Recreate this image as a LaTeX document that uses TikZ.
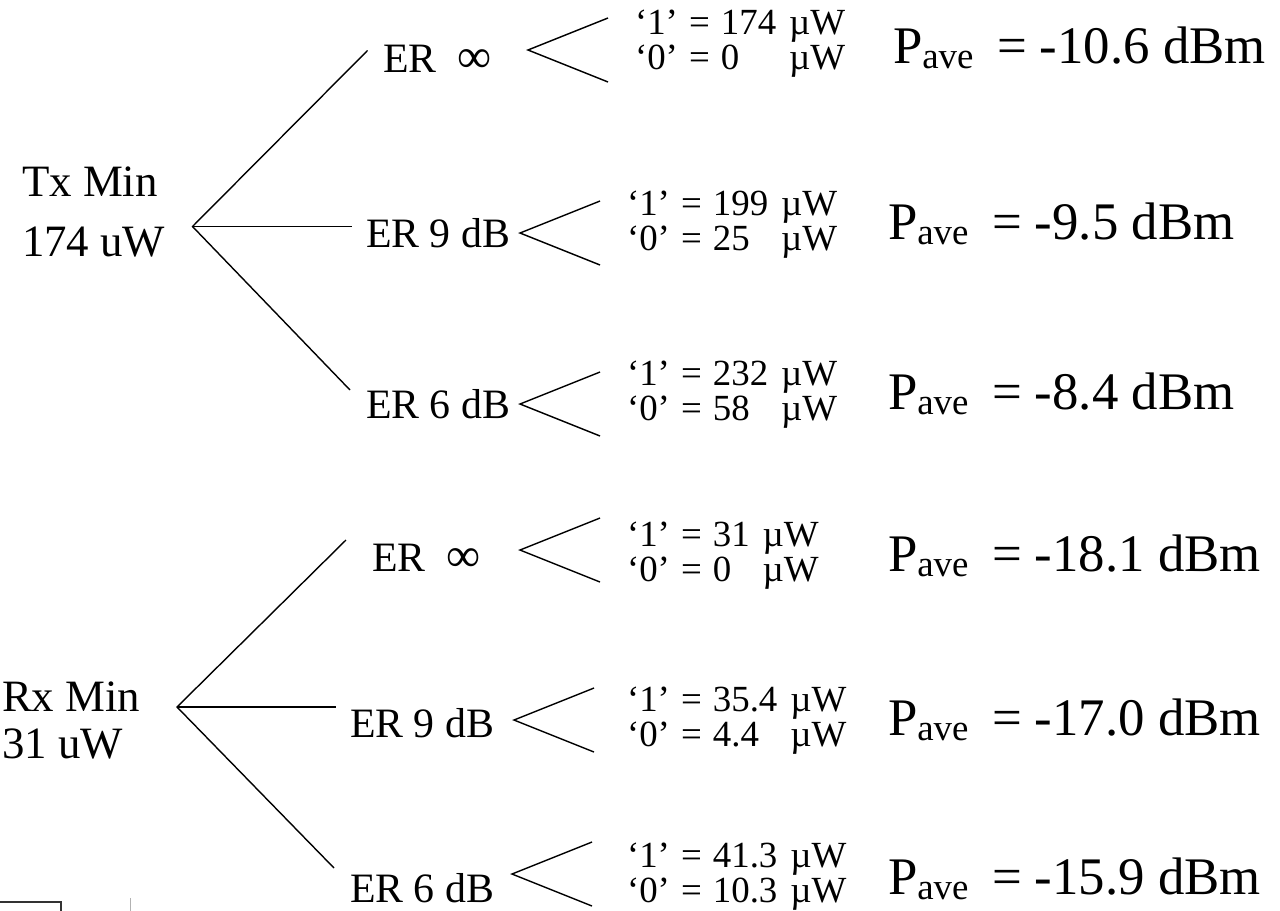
\documentclass[tikz,border=0pt]{standalone}
\usepackage{fontspec}
\setmainfont{Liberation Serif}
\newcommand{\vals}[2]{\begin{tabular}[t]{@{}l@{\hspace{0.3em}}l@{\hspace{0.35em}}l@{}}‘1’\hspace{0.3em}=&#1&µW\\‘0’\hspace{0.3em}=&#2&µW\end{tabular}}
\newcommand{\pv}[1]{\makebox[104bp][l]{P\raisebox{-5bp}{\fontsize{37}{37}\selectfont ave}}= #1}
\newcommand{\infsym}{{\fontsize{48}{48}\selectfont ∞}}
\begin{document}
\begin{tikzpicture}[x=1bp,y=-1bp,
  every node/.style={inner sep=0pt, outer sep=0pt},
  src/.style={font=\fontsize{45}{47}\selectfont, anchor=base west},
  erlab/.style={font=\fontsize{42}{42}\selectfont, anchor=base west},
  vals/.style={font=\fontsize{37}{35}\selectfont, anchor=base west},
  pave/.style={font=\fontsize{53}{53}\selectfont, anchor=base west},
  ln/.style={line width=1.4bp},
  fk/.style={line width=1.4bp},
  ]
\useasboundingbox (0,0) rectangle (1280,911);

% sources
\node[src] (txa1) at (22,196) {Tx Min};
\node[src] (txa2) at (22,256) {174 uW};
\node[src] (rxa1) at (2,711) {Rx Min};
\node[src] (rxa2) at (2,758) {31 uW};

% tree coordinates
\coordinate (txa) at (192.5,226.5);
\coordinate (tx1) at (367.5,50.5);
\coordinate (tx2) at (351.5,226.5);
\coordinate (tx3) at (350,390);
\coordinate (rxa) at (177,707);
\coordinate (rx1) at (346,540);
\coordinate (rx2) at (336,707);
\coordinate (rx3) at (334,868);
\draw[ln] (tx1) -- (txa) -- (tx3);
\draw[ln] (txa) -- (tx2);
\draw[ln] (rx1) -- (rxa) -- (rx3);
\draw[ln] (rxa) -- (rx2);

% ER labels
\node[erlab] (er1) at (383,72) {ER\ \ \infsym};
\node[erlab] (er2) at (366,247) {ER 9 dB};
\node[erlab] (er3) at (366,418) {ER 6 dB};
\node[erlab] (er4) at (372,571) {ER\ \ \infsym};
\node[erlab] (er5) at (350,737) {ER 9 dB};
\node[erlab] (er6) at (350,902) {ER 6 dB};

% small forks
\foreach \i/\fx/\fy in {1/528/50,2/520/233,3/520/404,4/520/550,5/514/720,6/512/874}{
  \coordinate (fa\i) at (\fx,\fy);
  \coordinate (fu\i) at (\fx+80,\fy-32);
  \coordinate (fl\i) at (\fx+80,\fy+32);
  \draw[fk] (fu\i) -- (fa\i) -- (fl\i);
}

% values
\node[vals] (v1) at (635,34) {\vals{174}{0}};
\node[vals] (v2) at (627,215) {\vals{199}{25}};
\node[vals] (v3) at (627,385) {\vals{232}{58}};
\node[vals] (v4) at (627,546) {\vals{31}{0}};
\node[vals] (v5) at (627,711) {\vals{35.4}{4.4}};
\node[vals] (v6) at (627,867) {\vals{41.3}{10.3}};

% average powers
\node[pave] (p1) at (893,63) {\pv{-10.6 dBm}};
\node[pave] (p2) at (888,239) {\pv{-9.5 dBm}};
\node[pave] (p3) at (888,409) {\pv{-8.4 dBm}};
\node[pave] (p4) at (888,571) {\pv{-18.1 dBm}};
\node[pave] (p5) at (888,735) {\pv{-17.0 dBm}};
\node[pave] (p6) at (888,894) {\pv{-15.9 dBm}};

% clipped remnants at bottom left
\draw[line width=2.5bp, black!80] (0,902) -- (61,902) -- (61,911);
\draw[line width=1.5bp, black!30] (130.5,898) -- (130.5,911);
\end{tikzpicture}
\end{document}
